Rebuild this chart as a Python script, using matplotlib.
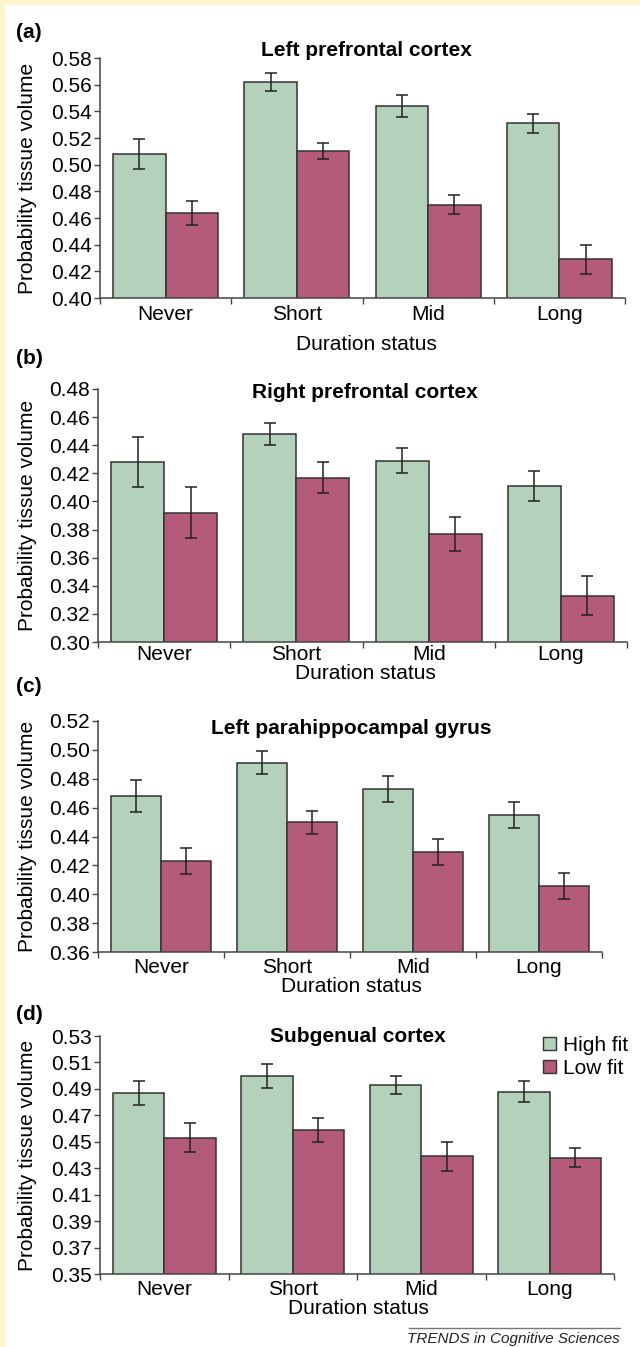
import numpy as np
import matplotlib
matplotlib.use('Agg')
import matplotlib.pyplot as plt
from matplotlib.patches import Rectangle, Patch

plt.rcParams['font.family'] = ['Liberation Sans', 'DejaVu Sans']

categories = ['Never', 'Short', 'Mid', 'Long']

# (a) Left prefrontal cortex
a_high = [0.508, 0.562, 0.544, 0.531]
a_high_err = [0.011, 0.007, 0.008, 0.007]
a_low = [0.464, 0.510, 0.470, 0.429]
a_low_err = [0.009, 0.006, 0.007, 0.011]

# (b) Right prefrontal cortex
b_high = [0.428, 0.448, 0.429, 0.411]
b_high_err = [0.018, 0.008, 0.009, 0.011]
b_low = [0.392, 0.417, 0.377, 0.333]
b_low_err = [0.018, 0.011, 0.012, 0.014]

# (c) Left parahippocampal gyrus
c_high = [0.468, 0.491, 0.473, 0.455]
c_high_err = [0.011, 0.008, 0.009, 0.009]
c_low = [0.423, 0.450, 0.429, 0.406]
c_low_err = [0.009, 0.008, 0.009, 0.009]

# (d) Subgenual cortex
d_high = [0.487, 0.500, 0.493, 0.488]
d_high_err = [0.009, 0.009, 0.007, 0.008]
d_low = [0.453, 0.459, 0.439, 0.438]
d_low_err = [0.011, 0.009, 0.011, 0.007]

green = '#b3d1bb'
red = '#b45a7b'
W, H = 640, 1347
fs = 15

fig = plt.figure(figsize=(W / 100, H / 100), dpi=100)
fig.patches.append(Rectangle((0, 1 - 4 / H), 1, 4 / H, transform=fig.transFigure,
                             color='#fdf6cf', zorder=0))
fig.patches.append(Rectangle((0, 0), 4 / W, 1, transform=fig.transFigure,
                             color='#fdf6cf', zorder=0))


def px(x, y):
    return x / W, 1 - y / H


def panel(box, letter, title, title_xy, high, high_err, low, low_err,
          ylo, yhi, step, letter_y, xlab_y, tick_pad, legend=False):
    left, right, top, bottom = box
    ax = fig.add_axes([left / W, 1 - bottom / H, (right - left) / W, (bottom - top) / H])
    x = np.arange(len(categories))
    ekw = dict(ecolor='#222222', elinewidth=1.1, capsize=4, capthick=1.1)
    ax.bar(x - 0.2, high, 0.4, yerr=high_err, color=green, edgecolor='#333333',
           linewidth=1.1, error_kw=ekw, label='High fit')
    ax.bar(x + 0.2, low, 0.4, yerr=low_err, color=red, edgecolor='#333333',
           linewidth=1.1, error_kw=ekw, label='Low fit')
    ax.set_xlim(-0.5, len(categories) - 0.5)
    ax.set_ylim(ylo, yhi)
    ax.set_yticks(np.arange(ylo, yhi + step / 2, step))
    ax.yaxis.set_major_formatter(matplotlib.ticker.FormatStrFormatter('%.2f'))
    ax.set_xticks(x)
    ax.set_xticklabels(categories)
    ax.set_xticks(np.arange(-0.5, len(categories), 1), minor=True)
    ax.tick_params(axis='x', which='major', length=0, pad=tick_pad, labelsize=fs)
    ax.tick_params(axis='x', which='minor', length=4, width=1, color='#444444')
    ax.tick_params(axis='y', length=4, width=1, color='#444444', pad=2, labelsize=fs)
    for s in ['top', 'right']:
        ax.spines[s].set_visible(False)
    for s in ['left', 'bottom']:
        ax.spines[s].set_color('#444444')
        ax.spines[s].set_linewidth(1.1)

    fig.text(*px(*title_xy), title, fontsize=fs, fontweight='bold',
             ha='center', va='center')
    fig.text(*px(16, letter_y), letter, fontsize=fs, fontweight='bold',
             ha='left', va='center')
    fig.text(*px(28, (top + bottom) / 2), 'Probability tissue volume', fontsize=fs,
             rotation=90, ha='center', va='center')
    fig.text(*px(title_xy[0], xlab_y), 'Duration status', fontsize=fs,
             ha='center', va='center')
    if legend:
        ax.legend(handles=[Patch(facecolor=green, edgecolor='#333333', label='High fit'),
                           Patch(facecolor=red, edgecolor='#333333', label='Low fit')],
                  loc='upper right', bbox_to_anchor=px(628, 1036),
                  bbox_transform=fig.transFigure, frameon=False, fontsize=fs,
                  handlelength=0.6, handleheight=0.6, handletextpad=0.35,
                  labelspacing=0.2, borderpad=0, borderaxespad=0)
    return ax


panel((100, 625, 58, 298), '(a)', 'Left prefrontal cortex', (366, 50),
      a_high, a_high_err, a_low, a_low_err, 0.40, 0.58, 0.02, 32, 345, 5)
panel((98, 627, 389, 642), '(b)', 'Right prefrontal cortex', (365, 393),
      b_high, b_high_err, b_low, b_low_err, 0.30, 0.48, 0.02, 359, 674, 2)
panel((98, 602, 721, 952), '(c)', 'Left parahippocampal gyrus', (351, 728),
      c_high, c_high_err, c_low, c_low_err, 0.36, 0.52, 0.02, 686, 986, 4)
panel((100, 614, 1036, 1274), '(d)', 'Subgenual cortex', (358, 1036),
      d_high, d_high_err, d_low, d_low_err, 0.35, 0.53, 0.02, 1015, 1309, 4,
      legend=True)

fig.add_artist(plt.Line2D([409 / W, 620 / W], [1 - 1328 / H, 1 - 1328 / H],
                          transform=fig.transFigure, color='#777777', linewidth=1))
fig.text(*px(620, 1339), 'TRENDS in Cognitive Sciences', fontsize=11, style='italic',
         ha='right', va='center', color='#222222')

fig.savefig('out.png', dpi=100)
